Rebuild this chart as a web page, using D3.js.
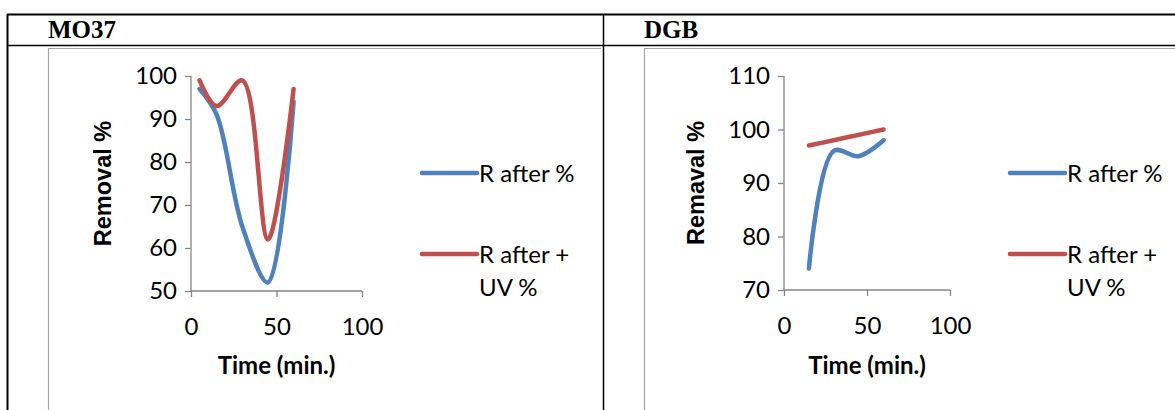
<!DOCTYPE html>
<html><head><meta charset="utf-8">
<script src="https://cdn.jsdelivr.net/npm/d3@7"></script>
<style>body{margin:0;background:#fff}svg{display:block}</style>
</head><body>
<svg id="c" width="1175" height="410"></svg>
<script>
// ---- data ----
const panelTitles = ["MO37", "DGB"];
const yTitles = ["Removal %", "Remaval %"];
const xTitle = "Time (min.)";
const seriesNames = ["R after %", "R after + UV %"];
const legendLines = [["R after %"], ["R after +", "UV %"]];
const xTicks = [0, 50, 100];
const yTicksMO37 = [50, 60, 70, 80, 90, 100];
const yTicksDGB = [70, 80, 90, 100, 110];
const timeMO37 = [5, 15, 30, 45, 60];
const mo37After = [97, 91, 65, 52, 94];
const mo37AfterUV = [99, 93, 99, 62, 97];
const timeDGB = [15, 30, 45, 60];
const dgbAfter = [74, 96, 95, 98];
const dgbAfterUV = [97, 98, 99, 100];

const colors = ["#4F81BD", "#C0504D"];
const axisColor = "#868686";
const font = "Lato, 'Open Sans', sans-serif";
const fs = 24;

const svg = d3.select("#c");

// table grid
const g0 = svg.append("g");
g0.append("line").attr("x1",7).attr("x2",1175).attr("y1",14.5).attr("y2",14.5).attr("stroke","#000").attr("stroke-width",2);
g0.append("line").attr("x1",7).attr("x2",1175).attr("y1",45.5).attr("y2",45.5).attr("stroke","#000").attr("stroke-width",1.5);
g0.append("line").attr("x1",7.5).attr("x2",7.5).attr("y1",14).attr("y2",410).attr("stroke","#000").attr("stroke-width",2);
g0.append("line").attr("x1",603.5).attr("x2",603.5).attr("y1",14).attr("y2",410).attr("stroke","#000").attr("stroke-width",1.5);

const panels = [
  {title:panelTitles[0], yTitle:yTitles[0], yTicks:yTicksMO37, yDom:[50,100], t:timeMO37, s:[mo37After, mo37AfterUV],
   frameX:48.5, frameR:601, px0:191, px1:362, py0:291, py1:76},
  {title:panelTitles[1], yTitle:yTitles[1], yTicks:yTicksDGB, yDom:[70,110], t:timeDGB, s:[dgbAfter, dgbAfterUV],
   frameX:644.5, frameR:1175, px0:784, px1:950, py0:290, py1:76}
];

panels.forEach((p, i) => {
  const g = svg.append("g");
  g.append("text").attr("x", p.frameX - 0.5).attr("y", 38).text(p.title)
    .attr("font-family", "'Liberation Serif','Times New Roman',serif").attr("font-weight","bold").attr("font-size", 25);
  g.append("path").attr("d", `M${p.frameX},410V48.5H${p.frameR}`).attr("fill","none").attr("stroke","#a6a6a6").attr("stroke-width",1.2);

  const x = d3.scaleLinear().domain([0,100]).range([p.px0, p.px1]);
  const y = d3.scaleLinear().domain(p.yDom).range([p.py0, p.py1]);

  const ya = g.append("g").attr("transform", `translate(${p.px0},0)`)
    .call(d3.axisLeft(y).tickValues(p.yTicks).tickSize(6).tickPadding(8).tickFormat(d3.format("d")));
  const xa = g.append("g").attr("transform", `translate(0,${p.py0})`)
    .call(d3.axisBottom(x).tickValues(xTicks).tickSize(6).tickPadding(21).tickFormat(d3.format("d")));
  [ya, xa].forEach(a => {
    a.select(".domain").attr("stroke", axisColor).attr("stroke-width", 1.3);
    a.selectAll(".tick line").attr("stroke", axisColor).attr("stroke-width", 1.3);
    a.selectAll("text").attr("font-family", font).attr("font-size", fs).attr("fill","#000");
  });
  ya.select(".domain").attr("d", `M0,${p.py0}V${p.py1}`);
  xa.select(".domain").attr("d", `M${p.px0},0H${p.px1}`);

  const cx = (p.px0 + p.px1) / 2;
  g.append("text").attr("x", cx).attr("y", 374).attr("text-anchor","middle").text(xTitle)
    .attr("font-family", font).attr("font-weight","bold").attr("font-size", fs);
  g.append("text").attr("transform", `translate(${p.px0 - 80},${(p.py0+p.py1)/2}) rotate(-90)`)
    .attr("text-anchor","middle").text(p.yTitle)
    .attr("font-family", "'Liberation Sans', Arial, sans-serif").attr("font-weight","bold").attr("font-size", 23.5);

  const line = d3.line().x(d => x(d[0])).y(d => y(d[1])).curve(d3.curveCatmullRom.alpha(0.5));
  p.s.forEach((vals, k) => {
    const pts = p.t.map((tt, j) => [tt, vals[j]]);
    g.append("path").attr("d", line(pts)).attr("fill","none").attr("stroke", colors[k])
      .attr("stroke-width", 4.5).attr("stroke-linecap","round").attr("stroke-linejoin","round");
  });

  const lx = p.px1 + 60;
  const ly = [173, 254];
  legendLines.forEach((words, k) => {
    g.append("line").attr("x1", lx).attr("x2", lx + 55).attr("y1", ly[k]).attr("y2", ly[k])
      .attr("stroke", colors[k]).attr("stroke-width", 4.5).attr("stroke-linecap","round");
    words.forEach((w, wi) => {
      g.append("text").attr("x", lx + 57).attr("y", ly[k] + 8.5 + wi * 33).text(w)
        .attr("font-family", font).attr("font-size", fs);
    });
  });
});
</script>
</body></html>
